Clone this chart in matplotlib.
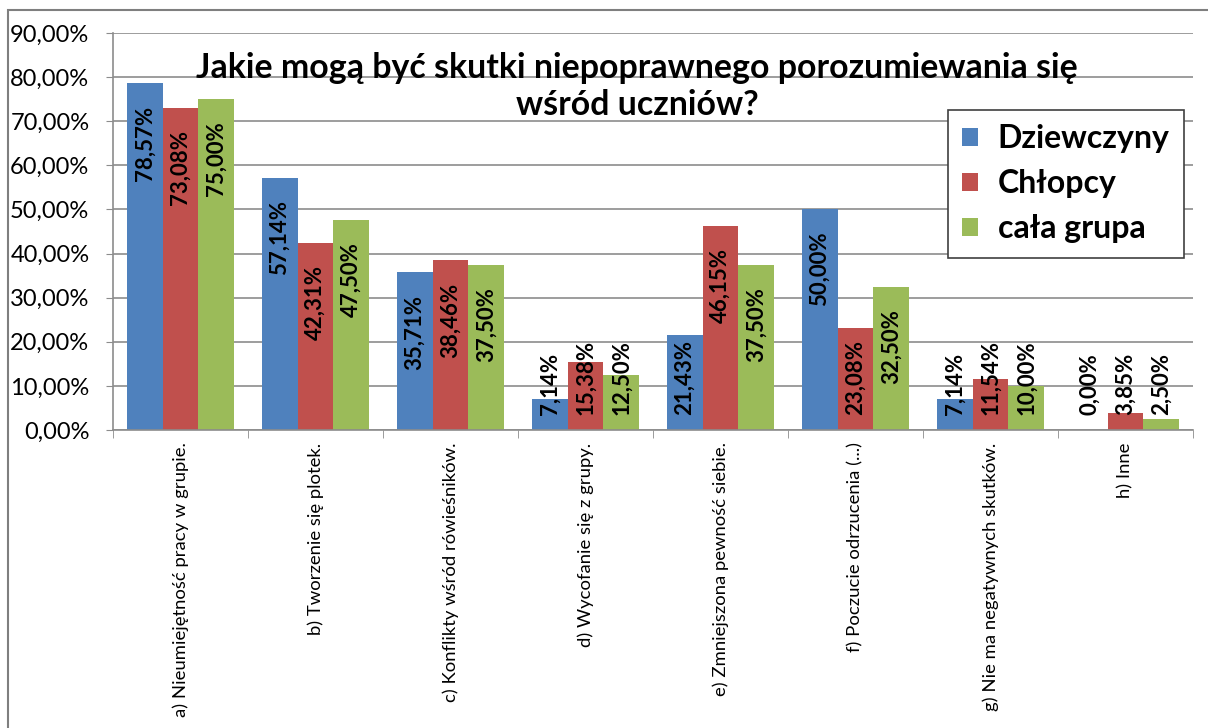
import matplotlib.pyplot as plt
import numpy as np
from matplotlib.patches import Rectangle, Patch

categories = ['a) Nieumiejętność pracy w grupie.', 'b) Tworzenie się plotek.',
              'c) Konflikty wśród rówieśników.', 'd) Wycofanie się z grupy.',
              'e) Zmniejszona pewność siebie.', 'f) Poczucie odrzucenia (...)',
              'g) Nie ma negatywnych skutków.', 'h) Inne']
dziewczyny = [78.57, 57.14, 35.71, 7.14, 21.43, 50.00, 7.14, 0.00]
chlopcy = [73.08, 42.31, 38.46, 15.38, 46.15, 23.08, 11.54, 3.85]
cala_grupa = [75.00, 47.50, 37.50, 12.50, 37.50, 32.50, 10.00, 2.50]
series_names = ['Dziewczyny', 'Chłopcy', 'cała grupa']
colors = ['#4F81BD', '#C0504D', '#9BBB59']
title_lines = ['Jakie mogą być skutki niepoprawnego porozumiewania się', 'wśród uczniów?']

plt.rcParams['font.family'] = ['Lato', 'DejaVu Sans']

W, H = 1208, 728
fig = plt.figure(figsize=(W / 100, H / 100), dpi=100)
ax = fig.add_axes([113 / W, 1 - 430 / H, (1193 - 113) / W, (430 - 33) / H])

# outer chart border (cut at right and bottom)
fig.patches.append(Rectangle((8 / W, -0.1), 1.2, 1 - 10 / H + 0.1, transform=fig.transFigure,
                             fill=False, edgecolor='#7f7f7f', linewidth=1.5))

x = np.arange(len(categories))
bw = 0.265
data = [dziewczyny, chlopcy, cala_grupa]
for i, (vals, col) in enumerate(zip(data, colors)):
    xs = x + (i - 1) * bw
    ax.bar(xs, vals, width=bw, color=col, zorder=2)
    for xi, v in zip(xs, vals):
        txt = f'{v:.2f}%'.replace('.', ',')
        if v < 24.3:
            ax.text(xi, 3.4, txt, rotation=90, ha='center', va='bottom',
                    fontsize=16, fontweight='bold', zorder=3)
        else:
            ax.text(xi, v - 5.0, txt, rotation=90, ha='center', va='top',
                    fontsize=16, fontweight='bold', zorder=3)

ax.set_xlim(-0.5, len(categories) - 0.5)
ax.set_ylim(0, 90)
ax.set_yticks(np.arange(0, 91, 10))
ax.set_yticklabels([f'{t},00%' for t in range(0, 91, 10)], fontsize=17)
ax.yaxis.grid(True, color='#8c8c8c', linewidth=1.2, zorder=0)
ax.set_axisbelow(True)

ax.set_xticks(x)
ax.set_xticklabels(categories, rotation=90, fontsize=13.3, va='top', ha='center')
ax.set_xticks(np.arange(-0.5, len(categories)), minor=True)
ax.tick_params(axis='x', which='major', length=0, pad=9)
ax.tick_params(axis='x', which='minor', length=6, color='#8c8c8c')
ax.tick_params(axis='y', length=5, color='#8c8c8c', pad=12)

for s in ['top', 'right']:
    ax.spines[s].set_visible(False)
for s in ['left', 'bottom']:
    ax.spines[s].set_color('#8c8c8c')
    ax.spines[s].set_linewidth(1.2)

fig.text(637 / W, 1 - 68 / H, title_lines[0], ha='center', va='center',
         fontsize=24.4, fontweight='bold')
fig.text(637 / W, 1 - 105 / H, title_lines[1], ha='center', va='center',
         fontsize=24.4, fontweight='bold')

handles = [Patch(facecolor=c) for c in colors]
leg = fig.legend(handles, series_names, loc='upper left',
                 bbox_to_anchor=(948 / W, 1 - 110 / H), fancybox=False,
                 edgecolor='#404040', framealpha=1, prop={'size': 23, 'weight': 'bold'},
                 handlelength=0.5, handleheight=0.5, handletextpad=0.6,
                 labelspacing=0.5, borderpad=0.45, borderaxespad=0)
leg.get_frame().set_linewidth(1.2)

fig.savefig('out.png', dpi=100)
